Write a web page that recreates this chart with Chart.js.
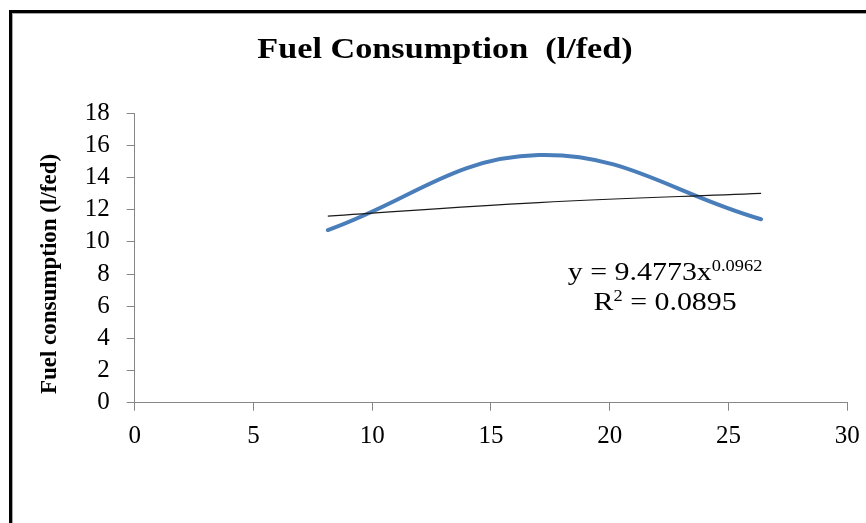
<!DOCTYPE html>
<html>
<head>
<meta charset="utf-8">
<script src="https://cdn.jsdelivr.net/npm/chart.js@4.4.1/dist/chart.umd.min.js"></script>
<style>
  html, body { margin: 0; padding: 0; background: #fff; overflow: hidden; }
  #wrap { position: relative; width: 866px; height: 523px; }
  /* cadre noir (coupé à droite et en bas) */
  #frame { position: absolute; left: 9px; top: 10px; width: 900px; height: 600px;
    border-left: 3px solid #000; border-top: 3px solid #000; pointer-events: none; }
  #frame::after { content: ""; position: absolute; left: 0; top: 0; right: 0; bottom: 0;
    border-left: 1px solid #a6a6a6; border-top: 1px solid #a6a6a6; }
</style>
</head>
<body>
<div id="wrap">
  <canvas id="chart" width="866" height="523"></canvas>
  <div id="frame"></div>
</div>
<script>
// données
const xValues = [8.13, 17.0, 26.37];
const fuelValues = [10.74, 15.4, 11.41];
const trendValues = [11.61, 12.45, 13.02];

const chartTitle = "Fuel Consumption  (l/fed)";
const yTitle = "Fuel consumption (l/fed)";
const equationMain = "y = 9.4773x";
const equationExp = "0.0962";
const rSquaredValue = " = 0.0895";

const serif = '"Liberation Serif", "Times New Roman", serif';

// textes dessinés à la main (titre, axe Y, équation)
const textPlugin = {
  id: "texts",
  afterDraw(chart) {
    const { ctx, scales: { x, y } } = chart;
    ctx.save();
    ctx.fillStyle = "#000";
    ctx.textBaseline = "alphabetic";

    // titre, un peu étiré comme sur l'original
    ctx.save();
    ctx.translate(445, 58);
    ctx.scale(1.14, 1);
    ctx.textAlign = "center";
    ctx.font = "bold 30px " + serif;
    ctx.fillText(chartTitle, 0, 0);
    ctx.restore();

    ctx.save();
    ctx.translate(56, 274);
    ctx.rotate(-Math.PI / 2);
    ctx.textAlign = "center";
    ctx.font = "bold 23px " + serif;
    ctx.fillText(yTitle, 0, 0);
    ctx.restore();

    // équation de la courbe de tendance
    ctx.textAlign = "left";
    const cx = x.getPixelForValue(22.33);
    const b1 = y.getPixelForValue(7.63);
    const b2 = y.getPixelForValue(5.76);
    const big = "26px " + serif, small = "16px " + serif;

    ctx.translate(cx, 0);
    ctx.scale(1.15, 1);

    ctx.font = big;
    const w1 = ctx.measureText(equationMain).width;
    ctx.font = small;
    const w2 = ctx.measureText(equationExp).width;
    let sx = -(w1 + w2) / 2;
    ctx.font = big;
    ctx.fillText(equationMain, sx, b1);
    ctx.font = small;
    ctx.fillText(equationExp, sx + w1, b1 - 9);

    ctx.font = big;
    const wr = ctx.measureText("R").width;
    const we = ctx.measureText(rSquaredValue).width;
    ctx.font = small;
    const w2b = ctx.measureText("2").width;
    sx = -(wr + w2b + we) / 2;
    ctx.font = big;
    ctx.fillText("R", sx, b2);
    ctx.font = small;
    ctx.fillText("2", sx + wr, b2 - 9);
    ctx.font = big;
    ctx.fillText(rSquaredValue, sx + wr + w2b, b2);
    ctx.restore();
  }
};

const axisGrey = "#868686";

chart = new Chart(document.getElementById("chart").getContext("2d"), {
  type: "scatter",
  data: {
    datasets: [
      {
        label: "Power (Fuel)",
        data: xValues.map((v, i) => ({ x: v, y: trendValues[i] })),
        showLine: true,
        borderColor: "#1a1a1a",
        borderWidth: 1.2,
        pointRadius: 0,
        tension: 0.4
      },
      {
        label: "Fuel",
        data: xValues.map((v, i) => ({ x: v, y: fuelValues[i] })),
        showLine: true,
        borderColor: "#4a7ebb",
        borderWidth: 4,
        pointRadius: 0,
        tension: 0.4,
        borderCapStyle: "round"
      }
    ]
  },
  options: {
    responsive: false,
    animation: false,
    layout: { padding: { top: 113.3, right: 18.7, left: 0, bottom: 0 } },
    plugins: { legend: { display: false }, tooltip: { enabled: false } },
    scales: {
      x: {
        type: "linear",
        min: 0, max: 30,
        ticks: { stepSize: 5, color: "#000", padding: 11, maxRotation: 0, autoSkip: false,
          font: { family: serif, size: 25 } },
        grid: { drawOnChartArea: false, color: axisGrey, tickLength: 8 },
        border: { color: axisGrey },
        afterFit(s) { s.height = 120.3; s.paddingRight = 0; s.paddingLeft = 0; }
      },
      y: {
        min: 0, max: 18,
        ticks: { stepSize: 2, color: "#000", padding: 17, autoSkip: false,
          font: { family: serif, size: 25 } },
        grid: { drawOnChartArea: false, color: axisGrey, tickLength: 8 },
        border: { color: axisGrey },
        afterFit(s) { s.width = 134.7; }
      }
    }
  },
  plugins: [textPlugin]
});
</script>
</body>
</html>
